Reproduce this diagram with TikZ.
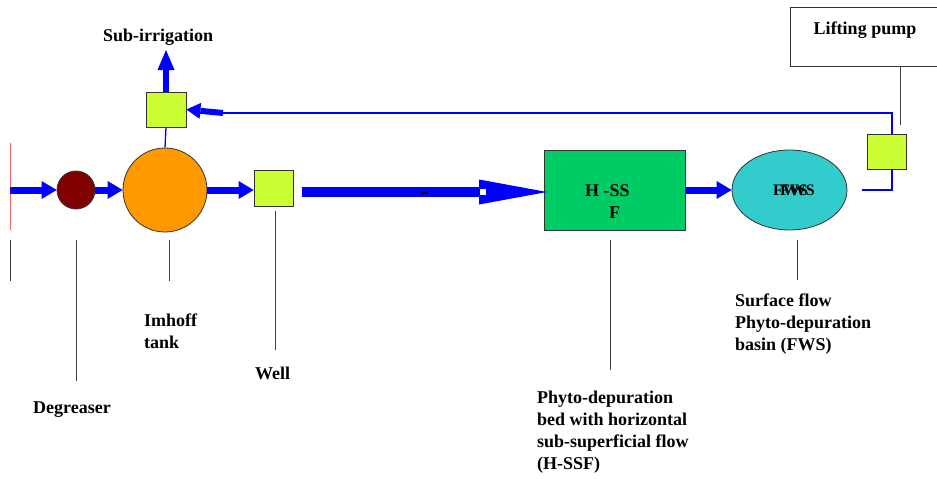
\documentclass[tikz,border=0pt]{standalone}
\usepackage{fontspec}
\setmainfont{Liberation Serif}
\usetikzlibrary{arrows.meta,shapes.geometric}
\definecolor{flowblue}{HTML}{0000FF}
\definecolor{degc}{HTML}{800000}
\definecolor{imhc}{HTML}{FF9900}
\definecolor{sqc}{HTML}{CCFF33}
\definecolor{hssfc}{HTML}{00CC66}
\definecolor{fwsc}{HTML}{33CCCC}
\definecolor{ptrc}{HTML}{404040}
\definecolor{redc}{HTML}{FF6666}
\tikzset{
  unitbox/.style={draw=black!80, line width=0.8pt, inner sep=0pt},
  sqbox/.style={unitbox, fill=sqc, minimum width=39pt, minimum height=36pt},
  lbl/.style={font=\bfseries\fontsize{18}{22}\selectfont, inner sep=0pt, align=left},
  thickflow/.style={draw=flowblue, line width=7pt, -{Triangle[length=15pt,width=18pt,line width=0pt]}},
  thinflow/.style={draw=flowblue, line width=1.3pt},
  pointer/.style={draw=ptrc, line width=1pt},
}
\begin{document}
\begin{tikzpicture}[x=1pt,y=-1pt]
\useasboundingbox (0,0) rectangle (937,479);
\fill[white] (0,0) rectangle (937,479);

% nodes
\node[unitbox, circle, fill=degc, minimum size=38pt] (deg) at (76,190) {};
\node[unitbox, circle, fill=imhc, minimum size=84pt] (imh) at (165,190) {};
\node[sqbox] (well) at (273.5,188) {};
\node[sqbox, minimum width=40pt, minimum height=35pt] (subirr) at (166,109.5) {};
\node[unitbox, fill=hssfc, minimum width=141pt, minimum height=80pt] (hssf) at (614.5,190) {};
\node[unitbox, ellipse, fill=fwsc, minimum width=115pt, minimum height=80pt] (fws) at (789.5,190) {};
\node[sqbox, minimum width=39pt, minimum height=35pt] (pumpsq) at (886.5,151.5) {};
\node[unitbox, fill=white, minimum width=160pt, minimum height=59pt, anchor=north west] (lift) at (790,7) {};

% texts
\node[lbl, anchor=west] (hssft1) at (585,191) {H -SS};
\node[lbl, anchor=west] (hssft2) at (609,213) {F};
\node[lbl, anchor=west, font=\bfseries\fontsize{16}{20}\selectfont] (fwst1) at (773,190) {FWS};
\node[lbl, anchor=west, font=\bfseries\fontsize{16}{20}\selectfont] (fwst2) at (780,190) {FWS};
\node[lbl] (liftt) at (865,30) {Lifting pump};
\node[lbl, anchor=west] (subt) at (103,37) {Sub-irrigation};
\node[lbl, anchor=north west] (imht) at (144,314) {Imhoff\\tank};
\node[lbl, anchor=west] (wellt) at (255,373) {Well};
\node[lbl, anchor=west] (degt) at (33,410) {Degreaser};
\node[lbl, anchor=north west] (fwsl) at (735,294) {Surface flow\\Phyto-depuration\\basin (FWS)};
\node[lbl, anchor=north west] (hssfl) at (537,391) {Phyto-depuration\\bed with horizontal\\sub-superficial flow\\(H-SSF)};

% inlet
\coordinate (redtop) at (10,143);
\coordinate (redbot) at (10,230);
\coordinate (inlet) at (10,190);
\draw[draw=redc, line width=1pt] (redtop) -- (redbot);

% main flow
\draw[thickflow] (inlet) -- (deg.west);
\draw[thickflow] (deg.east) -- (imh.west);
\draw[thickflow] (imh.east) -- (well.west |- imh.east);
\coordinate (bigstart) at (302,192);
\coordinate (bigend) at (547,192);
\draw[draw=flowblue, line width=10pt, -{Triangle[length=68pt,width=25pt,line width=0pt]}] (bigstart) -- (bigend);
\fill[white] (480,189) rectangle (486,195);
\fill[black] (422,192) rectangle (428,193.5);
\draw[thickflow] (hssf.east) -- (fws.west);

% recirculation
\coordinate (r1) at (862,190);
\coordinate (r2) at (892,190);
\coordinate (r3) at (892,113);
\coordinate (r4) at (223,113);
\draw[thinflow] (r1) -- (r2) -- (pumpsq.south -| r2);
\draw[thinflow] (pumpsq.north -| r3) -- (r3) -- (r4);
\draw[draw=flowblue, line width=6pt, -{Triangle[length=14pt,width=16pt,line width=0pt]}] (r4) -- (subirr.east);
\coordinate (subtop) at (166,50);
\draw[draw=flowblue, line width=6pt, -{Triangle[length=20pt,width=17pt,line width=0pt]}] (subirr.north) -- (subtop);
\draw[thinflow] (subirr.south) -- (imh.north);

% lifting pump link
\coordinate (lp1) at (900,66);
\coordinate (lp2) at (900,125);
\draw[pointer] (lp1) -- (lp2);

% pointer lines
\coordinate (p0a) at (10,240); \coordinate (p0b) at (10,281);
\coordinate (p1a) at (76,240); \coordinate (p1b) at (76,381);
\coordinate (p2a) at (169,240); \coordinate (p2b) at (169,281);
\coordinate (p3a) at (275,211); \coordinate (p3b) at (275,350);
\coordinate (p4a) at (610,240); \coordinate (p4b) at (610,370);
\coordinate (p5a) at (797,240); \coordinate (p5b) at (797,280);
\draw[pointer] (p0a) -- (p0b);
\draw[pointer] (p1a) -- (p1b);
\draw[pointer] (p2a) -- (p2b);
\draw[pointer] (p3a) -- (p3b);
\draw[pointer] (p4a) -- (p4b);
\draw[pointer] (p5a) -- (p5b);
\end{tikzpicture}
\end{document}
